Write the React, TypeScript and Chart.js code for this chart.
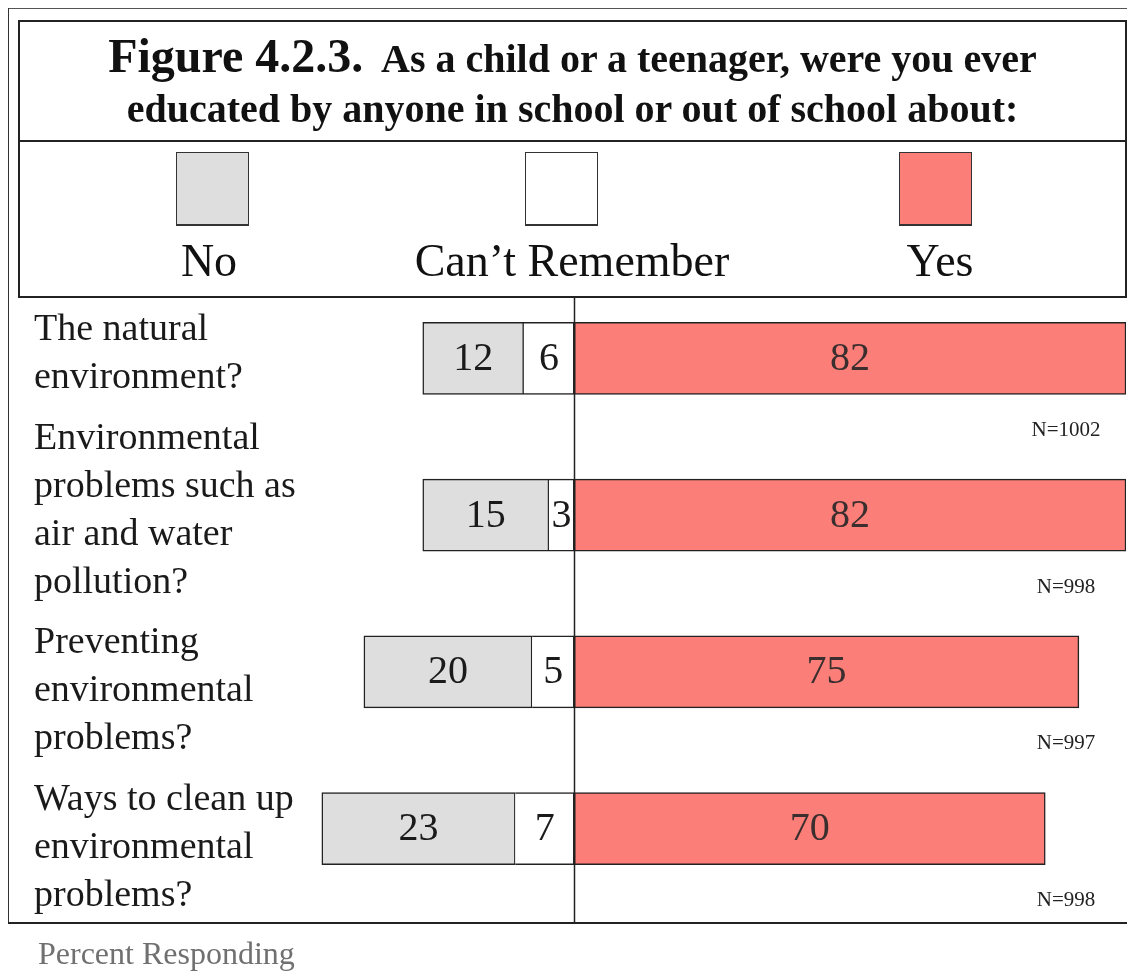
import React, { useEffect, useRef } from "react";
import { Chart, registerables } from "chart.js";

Chart.register(...registerables);

// ---- data ----
const categories: string[][] = [
  ["The natural", "environment?"],
  ["Environmental", "problems such as", "air and water", "pollution?"],
  ["Preventing", "environmental", "problems?"],
  ["Ways to clean up", "environmental", "problems?"],
];
const noValues = [12, 15, 20, 23];
const cantRememberValues = [6, 3, 5, 7];
const yesValues = [82, 82, 75, 70];
const sampleSizes = [1002, 998, 997, 998];
const seriesNames = ["No", "Can\u2019t Remember", "Yes"];

// ---- style ----
const SERIF = '"Liberation Serif", "Times New Roman", serif';
const NO_COLOR = "#dedede";
const CANT_COLOR = "#ffffff";
const YES_COLOR = "#fb7f78";
const EDGE = "#222222";

const rowLabelPlugin = {
  id: "rowLabels",
  afterDraw(chart: any) {
    const { ctx } = chart;
    const y = chart.scales.y;
    const xR = chart.scales.xR;
    const band = (y.bottom - y.top) / categories.length;
    const lh = 48;
    ctx.save();
    // zero line
    const zx = Math.round(xR.getPixelForValue(0)) + 0.5;
    ctx.strokeStyle = EDGE;
    ctx.lineWidth = 1.5;
    ctx.beginPath();
    ctx.moveTo(zx, 27);
    ctx.lineTo(zx, 653);
    ctx.stroke();

    // category labels
    ctx.fillStyle = "#1a1a1a";
    ctx.font = `38px ${SERIF}`;
    ctx.textAlign = "left";
    ctx.textBaseline = "middle";
    categories.forEach((lines, i) => {
      const c = y.getPixelForValue(i);
      const top = c - band / 2;
      const bottom = c + band / 2;
      const first = Math.min(top + 50, bottom - 10 - (lines.length - 1) * lh);
      lines.forEach((t, k) => ctx.fillText(t, 26, first + k * lh));
    });

    // N labels
    ctx.font = `21px ${SERIF}`;
    ctx.textAlign = "center";
    ctx.textBaseline = "alphabetic";
    ctx.fillStyle = "#222";
    sampleSizes.forEach((n, i) => {
      const c = y.getPixelForValue(i);
      ctx.fillText("N=" + n, chart.chartArea.right - 60, c + band / 2 - 1);
    });

    // value labels inside bars
    ctx.font = `40px ${SERIF}`;
    ctx.textBaseline = "middle";
    chart.data.datasets.forEach((ds: any, di: number) => {
      const meta = chart.getDatasetMeta(di);
      ctx.fillStyle = ds.labelColor;
      meta.data.forEach((el: any, j: number) => {
        const v = Math.abs(ds.data[j]);
        ctx.fillText(String(v), (el.x + el.base) / 2, el.y + 1);
      });
    });
    ctx.restore();
  },
};

function BarChart() {
  const ref = useRef<HTMLCanvasElement>(null);
  useEffect(() => {
    if (!ref.current) return;
    const common = {
      borderColor: EDGE,
      borderSkipped: false,
      barThickness: 72,
      stack: "all",
      yAxisID: "y",
    };
    const chart = new Chart(ref.current, {
      type: "bar",
      data: {
        labels: categories.map((c) => c.join(" ")),
        datasets: [
          {
            ...common,
            label: seriesNames[1],
            data: cantRememberValues.map((v) => -v),
            backgroundColor: CANT_COLOR,
            borderWidth: { top: 1.5, bottom: 1.5, left: 0, right: 1.5 },
            xAxisID: "xL",
            labelColor: "#1a1a1a",
          },
          {
            ...common,
            label: seriesNames[0],
            data: noValues.map((v) => -v),
            backgroundColor: NO_COLOR,
            borderWidth: 1.5,
            xAxisID: "xL",
            labelColor: "#1a1a1a",
          },
          {
            ...common,
            label: seriesNames[2],
            data: yesValues,
            backgroundColor: YES_COLOR,
            borderWidth: 1.5,
            xAxisID: "xR",
            labelColor: "#3a2e2e",
          },
        ] as any,
      },
      options: {
        indexAxis: "y",
        animation: false,
        responsive: false,
        devicePixelRatio: 1,
        layout: { padding: { left: 297, right: 9, top: 10, bottom: 33 } },
        plugins: { legend: { display: false }, tooltip: { enabled: false } },
        scales: {
          y: { type: "category", display: false, stacked: true, offset: true },
          xL: { type: "linear", display: false, stacked: true, min: -32, max: 32 * 82 / 40 },
          xR: { type: "linear", display: false, min: -40, max: 82 },
        },
      },
      plugins: [rowLabelPlugin],
    });
    return () => chart.destroy();
  }, []);
  return (
    <canvas
      ref={ref}
      width={1127}
      height={670}
      style={{ position: "absolute", left: 0, top: 262, width: 1127, height: 670 }}
    />
  );
}

const abs = (o: React.CSSProperties): React.CSSProperties => ({ position: "absolute", ...o });

export default function App() {
  const legendItems = [
    { name: seriesNames[0], color: NO_COLOR, sq: 168, cx: 201 },
    { name: seriesNames[1], color: CANT_COLOR, sq: 517, cx: 564 },
    { name: seriesNames[2], color: YES_COLOR, sq: 891, cx: 932 },
  ];
  return (
    <div style={{ position: "relative", width: 1127, height: 963, fontFamily: SERIF, color: "#111" }}>
      {/* outer frame lines */}
      <div style={abs({ left: -1, top: 0, width: 1128, height: 0, borderTop: "1.5px solid #555" })} />
      <div style={abs({ left: -1, top: 0, width: 0, height: 915, borderLeft: "2px solid #333" })} />
      <div style={abs({ left: -1, top: 914, width: 1128, height: 0, borderTop: "2px solid #222" })} />
      <BarChart />
      {/* title + legend box */}
      <div
        style={abs({
          left: 10,
          top: 12,
          width: 1109,
          height: 278,
          boxSizing: "border-box",
          border: "2px solid #222",
          background: "transparent",
        })}
      />
      <div style={abs({ left: 10, top: 132, width: 1109, height: 0, borderTop: "2px solid #222" })} />
      <div
        style={abs({
          left: 10,
          top: 24,
          width: 1109,
          textAlign: "center",
          fontWeight: "bold",
          fontSize: 48,
          lineHeight: "48px",
          whiteSpace: "nowrap",
        })}
      >
        Figure 4.2.3.<span style={{ fontSize: 40 }}>{"\u00a0 As a child or a teenager, were you ever"}</span>
      </div>
      <div
        style={abs({
          left: 10,
          top: 81,
          width: 1109,
          textAlign: "center",
          fontWeight: "bold",
          fontSize: 40,
          lineHeight: "40px",
          whiteSpace: "nowrap",
        })}
      >
        educated by anyone in school or out of school about:
      </div>
      {legendItems.map((it) => (
        <React.Fragment key={it.name}>
          <div
            style={abs({
              left: it.sq,
              top: 144,
              width: 73,
              height: 74,
              boxSizing: "border-box",
              background: it.color,
              border: "1.5px solid #333",
              borderBottomWidth: 2.5,
            })}
          />
          <div
            style={abs({
              left: it.cx - 200,
              top: 230,
              width: 400,
              textAlign: "center",
              fontSize: 46,
              lineHeight: "46px",
              whiteSpace: "nowrap",
            })}
          >
            {it.name}
          </div>
        </React.Fragment>
      ))}
      <div style={abs({ left: 30, top: 929, fontSize: 32, lineHeight: "32px", color: "#707070", whiteSpace: "nowrap" })}>
        Percent Responding
      </div>
    </div>
  );
}
